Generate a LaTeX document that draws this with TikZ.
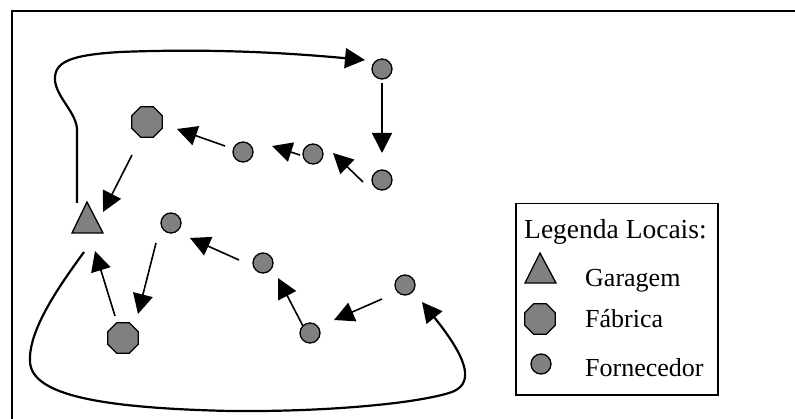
\documentclass[tikz,border=0pt]{standalone}
\usepackage{fontspec}
\setmainfont{Liberation Serif}
\usetikzlibrary{arrows.meta,shapes.geometric}
\definecolor{shapegray}{RGB}{128,128,128}
\tikzset{
  supplier/.style={circle, draw=black, fill=shapegray, line width=1.3pt, minimum size=20pt, inner sep=0pt},
  factory/.style={regular polygon, regular polygon sides=8, draw=black, fill=shapegray, line width=1.3pt, minimum size=33pt, inner sep=0pt},
  garage/.style={draw=black, fill=shapegray, line width=1.3pt, line join=miter},
  flow/.style={line width=1.6pt, -{Triangle[length=20pt,width=20pt]}},
  route/.style={line width=2.2pt, -{Triangle[length=20pt,width=20pt]}},
  legtext/.style={anchor=base west, inner sep=0pt, font=\fontsize{26}{30}\selectfont}
}
\begin{document}
\begin{tikzpicture}[x=1pt,y=-1pt]
\useasboundingbox (0,0) rectangle (795,419);
% frame
\draw[line width=1.5pt] (12,419) -- (12,11) -- (795,11);
% nodes
\node[supplier] (s1) at (382,69) {};
\node[supplier] (s2) at (382,180) {};
\node[supplier] (s3) at (313,154) {};
\node[supplier] (s4) at (243,152) {};
\node[factory]  (f1) at (147,122) {};
\node[supplier] (s5) at (171,223) {};
\node[supplier] (s6) at (263,263) {};
\node[supplier] (s7) at (310,333) {};
\node[supplier] (s8) at (405,285) {};
\node[factory]  (f2) at (123,338) {};
\coordinate (gar) at (87,222);
\draw[garage] (87,202) -- (103,233) -- (72,233) -- cycle;
% connector ends
\coordinate (r1s) at (77,203);  \coordinate (r1e) at (365,60);
\coordinate (a1s) at (382,83);  \coordinate (a1e) at (382,153);
\coordinate (a2s) at (363,182); \coordinate (a2e) at (333,153);
\coordinate (a3s) at (300,155); \coordinate (a3e) at (272,146);
\coordinate (a4s) at (225,146); \coordinate (a4e) at (177,129);
\coordinate (a5s) at (132,155); \coordinate (a5e) at (103,212);
\coordinate (b1s) at (84,252);  \coordinate (b1e) at (422,302);
\coordinate (b2s) at (382,299); \coordinate (b2e) at (334,320);
\coordinate (b3s) at (303,326); \coordinate (b3e) at (278,278);
\coordinate (b4s) at (239,260); \coordinate (b4e) at (190,238);
\coordinate (b5s) at (156,243); \coordinate (b5e) at (138,314);
\coordinate (b6s) at (115,316); \coordinate (b6e) at (95,251);
% upper tour
\draw[route] (r1s) -- (77,130) .. controls (77,113) and (56,97) .. (55,80)
  .. controls (54,62) and (70,55) .. (120,52) .. controls (220,48) and (300,54) .. (r1e);
\draw[flow] (a1s) -- (a1e);
\draw[flow] (a2s) -- (a2e);
\draw[flow] (a3s) -- (a3e);
\draw[flow] (a4s) -- (a4e);
\draw[flow] (a5s) -- (a5e);
% lower tour
\draw[route] (b1s) .. controls (60,285) and (28,330) .. (30,362)
  .. controls (32,395) and (100,408) .. (230,411)
  .. controls (330,412) and (420,403) .. (452,392)
  .. controls (478,382) and (462,352) .. (b1e);
\draw[flow] (b2s) -- (b2e);
\draw[flow] (b3s) -- (b3e);
\draw[flow] (b4s) -- (b4e);
\draw[flow] (b5s) -- (b5e);
\draw[flow] (b6s) -- (b6e);
% legend
\node[draw=black, line width=1.5pt, minimum width=202pt, minimum height=191pt, anchor=north west, inner sep=0pt] (legend) at (515,203) {};
\node[legtext, font=\fontsize{27.5}{30}\selectfont] (lt) at (524,239) {Legenda Locais:};
\coordinate (lg) at (540,270);
\draw[garage] (540,253) -- (556,283) -- (525,283) -- cycle;
\node[factory] (lf) at (540,319) {};
\node[supplier] (ls) at (541,364) {};
\node[legtext] (t1) at (585,287) {Garagem};
\node[legtext] (t2) at (585,328) {Fábrica};
\node[legtext] (t3) at (585,377) {Fornecedor};
\end{tikzpicture}
\end{document}
